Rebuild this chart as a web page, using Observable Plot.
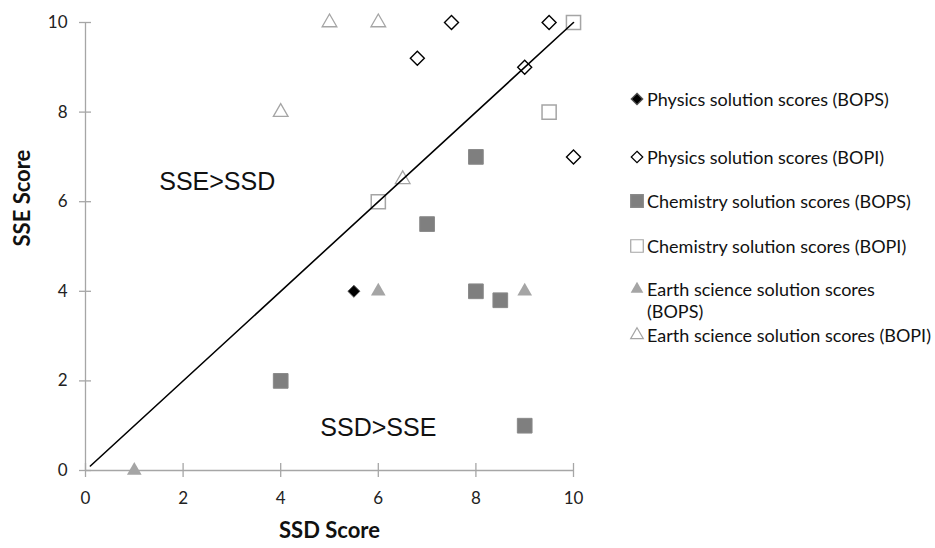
<!DOCTYPE html>
<html><head><meta charset="utf-8">
<script src="https://cdn.jsdelivr.net/npm/d3@7"></script>
<script src="https://cdn.jsdelivr.net/npm/@observablehq/plot@0.6"></script>
<style>
body{margin:0;background:#fff;}
#wrap{position:relative;width:935px;height:548px;overflow:hidden;background:#fff;}
#chart{position:absolute;left:0;top:0;}
.item{position:absolute;left:628px;font-family:Lato,sans-serif;font-size:18px;line-height:22px;color:#111;white-space:nowrap;}
.item svg{position:absolute;left:0;top:0;}
.item span{position:absolute;left:19px;top:0;}
</style></head><body>
<div id="wrap"><div id="chart"></div><div id="legend"></div></div>
<script>
// ---- data ----
const physBOPS_x = [5.5];
const physBOPS_y = [4];
const physBOPI_x = [7.5, 9.5, 6.8, 9, 10];
const physBOPI_y = [10, 10, 9.2, 9, 7];
const chemBOPS_x = [8, 7, 4, 8, 8.5, 9];
const chemBOPS_y = [7, 5.5, 2, 4, 3.8, 1];
const chemBOPI_x = [10, 9.5, 6];
const chemBOPI_y = [10, 8, 6];
const earthBOPS_x = [1, 6, 9];
const earthBOPS_y = [0, 4, 4];
const earthBOPI_x = [5, 6, 4, 6.5];
const earthBOPI_y = [10, 10, 8, 6.5];
const diagX = [0.1, 10];
const diagY = [0.1, 10];
const xTicks = [0, 2, 4, 6, 8, 10];
const yTicks = [0, 2, 4, 6, 8, 10];
const regionText = ["SSE>SSD", "SSD>SSE"];
const regionX = [2.7, 6.0];
const regionY = [6.45, 0.95];
const xTitle = "SSD Score";
const yTitle = "SSE Score";
const legendLabels = [
  "Physics solution scores (BOPS)",
  "Physics solution scores (BOPI)",
  "Chemistry solution scores (BOPS)",
  "Chemistry solution scores (BOPI)",
  "Earth science solution scores<br>(BOPS)",
  "Earth science solution scores (BOPI)"
];

// ---- build ----
const pts = (xs, ys) => xs.map((x, i) => ({x, y: ys[i]}));
const diag = pts(diagX, diagY);
const regions = regionText.map((t, i) => ({t, x: regionX[i], y: regionY[i]}));
const axisGray = "#a6a6a6";

const chart = Plot.plot({
  width: 600, height: 548,
  marginLeft: 85, marginRight: 27, marginTop: 22, marginBottom: 78,
  x: {domain: [0, 10]},
  y: {domain: [0, 10]},
  style: {fontFamily: "Lato, sans-serif", fontSize: "17px", color: "#222", background: "white"},
  marks: [
    Plot.ruleY([0], {stroke: axisGray, strokeWidth: 1.3}),
    Plot.ruleX([0], {stroke: axisGray, strokeWidth: 1.3}),
    Plot.ruleX(xTicks, {x: d => d, y1: 0, y2: 0, insetTop: 7, insetBottom: 7, stroke: axisGray, strokeWidth: 1.3}),
    Plot.ruleY(yTicks, {y: d => d, x1: 0, x2: 0, insetLeft: 6, insetRight: 6, stroke: axisGray, strokeWidth: 1.3}),
    Plot.axisX({ticks: xTicks, tickSize: 0, tickPadding: 21, label: null, tickFormat: d => d}),
    Plot.axisY({ticks: yTicks, tickSize: 0, tickPadding: 18, label: null, tickFormat: d => d}),
    Plot.text([xTitle], {frameAnchor: "bottom", dy: 67, text: d => d, fontWeight: "bold", fontSize: 22, fill: "#111"}),
    Plot.text([yTitle], {frameAnchor: "left", dx: -63, rotate: -90, text: d => d, fontWeight: "bold", fontSize: 22, fill: "#111"}),
    Plot.text(regions, {x: "x", y: "y", text: "t", fontSize: 25, fontFamily: "Liberation Sans, Arial, sans-serif", fill: "#111"}),
    Plot.dot(pts(chemBOPS_x, chemBOPS_y), {x: "x", y: "y", symbol: "square", r: 8.3, fill: "#7f7f7f", stroke: "#8a8a8a", strokeWidth: 1}),
    Plot.dot(pts(earthBOPS_x, earthBOPS_y), {x: "x", y: "y", symbol: "triangle2", r: 7, fill: "#a5a5a5", stroke: "none"}),
    Plot.dot(pts(chemBOPI_x, chemBOPI_y), {x: "x", y: "y", symbol: "square2", r: 9, fill: "none", stroke: "#a5a5a5", strokeWidth: 1.5}),
    Plot.dot(pts(earthBOPI_x, earthBOPI_y), {x: "x", y: "y", symbol: "triangle2", r: 7, fill: "none", stroke: "#a5a5a5", strokeWidth: 1.3}),
    Plot.dot(pts(physBOPI_x, physBOPI_y), {x: "x", y: "y", symbol: "diamond2", r: 6.3, fill: "none", stroke: "#000", strokeWidth: 1.4}),
    Plot.dot(pts(physBOPS_x, physBOPS_y), {x: "x", y: "y", symbol: "diamond2", r: 5.4, fill: "#000", stroke: "#555", strokeWidth: 1}),
    Plot.line(diag, {x: "x", y: "y", stroke: "#000", strokeWidth: 1.6})
  ]
});
document.getElementById("chart").appendChild(chart);

// ---- legend ----
const legendTop = [99, 157, 201, 246, 289, 335];
const legendSym = [
  {type: d3.symbolDiamond2, size: 85, fill: "#000", stroke: "#555"},
  {type: d3.symbolDiamond2, size: 85, fill: "none", stroke: "#000"},
  {type: d3.symbolSquare, size: 160, fill: "#7f7f7f", stroke: "#8a8a8a"},
  {type: d3.symbolSquare2, size: 200, fill: "none", stroke: "#a5a5a5"},
  {type: d3.symbolTriangle2, size: 115, fill: "#a5a5a5", stroke: "none"},
  {type: d3.symbolTriangle2, size: 115, fill: "none", stroke: "#a5a5a5"}
];
const legend = d3.select("#legend");
legendLabels.forEach((lab, i) => {
  const item = legend.append("div").attr("class", "item").style("top", (legendTop[i] - 11) + "px");
  const s = legendSym[i];
  const svg = item.append("svg").attr("width", 18).attr("height", 22);
  svg.append("path").attr("transform", "translate(9,11)")
    .attr("d", d3.symbol(s.type, s.size)())
    .attr("fill", s.fill).attr("stroke", s.stroke).attr("stroke-width", 1.2);
  item.append("span").html(lab);
});
</script>
</body></html>
